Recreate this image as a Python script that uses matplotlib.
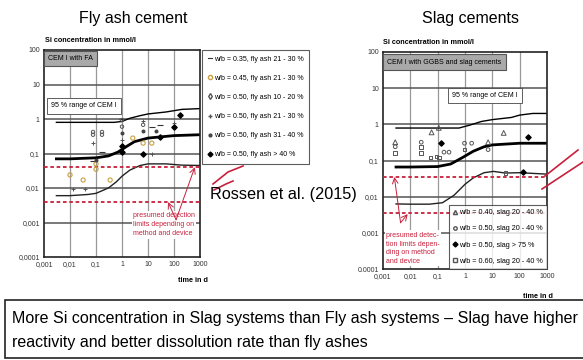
import matplotlib
matplotlib.use("Agg")
import matplotlib.pyplot as plt
from matplotlib.lines import Line2D
from matplotlib.patches import Rectangle

plt.rcParams['font.family'] = ['Liberation Sans', 'DejaVu Sans']

W, H = 583, 360

# ---- axis ticks (shared) ----
x_ticks = [0.001, 0.01, 0.1, 1, 10, 100, 1000]
x_ticklabels = ["0,001", "0,01", "0,1", "1", "10", "100", "1000"]
y_ticks = [0.0001, 0.001, 0.01, 0.1, 1, 10, 100]
y_ticklabels_fa = ["0,0001", "0,001", "0,01", "0,1", "1", "10", "100"]
y_ticklabels_slag = ["0.0001", "0,001", "0,01", "0,1", "1", "10", "100"]

# ---- fly ash: CEM I band curves ----
fa_upper_t = [0.003, 0.01, 0.1, 0.5, 1, 2, 5, 10, 50, 200, 1000]
fa_upper_c = [0.8, 0.8, 0.8, 0.8, 0.85, 1.05, 1.25, 1.4, 1.6, 1.9, 2.0]
fa_mid_t = [0.003, 0.01, 0.1, 0.3, 0.7, 1.5, 3, 10, 100, 1000]
fa_mid_c = [0.07, 0.07, 0.075, 0.085, 0.11, 0.16, 0.22, 0.28, 0.33, 0.35]
fa_low_t = [0.003, 0.01, 0.05, 0.1, 0.3, 0.6, 1, 2, 5, 10, 50, 200, 1000]
fa_low_c = [0.006, 0.006, 0.0065, 0.007, 0.01, 0.015, 0.022, 0.033, 0.045, 0.05, 0.05, 0.046, 0.045]
fa_limits = [0.04, 0.004]

# ---- fly ash: measured points ----
fa35_t = [1, 14, 29, 0.08, 0.17]
fa35_c = [1.0, 0.6, 0.68, 0.06, 0.11]
fa45_t = [0.01, 0.032, 0.1, 0.1, 0.35, 2.6, 6.5, 14]
fa45_c = [0.024, 0.017, 0.05, 0.035, 0.017, 0.28, 0.2, 0.2]
fa50a_t = [0.077, 0.17, 0.077, 0.17, 1, 6.5, 1]
fa50a_c = [0.42, 0.42, 0.35, 0.35, 0.93, 0.68, 0.6]
fa50b_t = [0.077, 1, 14, 100, 0.013, 0.038, 6.5]
fa50b_c = [0.2, 0.25, 0.1, 0.76, 0.0095, 0.0095, 0.85]
fa50c_t = [1, 0.1, 6.5, 20]
fa50c_c = [0.39, 0.065, 0.45, 0.45]
fa50d_t = [1, 6.5, 29, 100, 170, 1]
fa50d_c = [0.11, 0.1, 0.3, 0.6, 1.3, 0.16]

# ---- slag: CEM I band curves ----
sl_upper_t = [0.003, 0.01, 0.1, 0.6, 1.5, 4, 10, 50, 100, 300, 1000]
sl_upper_c = [0.79, 0.79, 0.79, 0.79, 0.95, 1.2, 1.35, 1.55, 1.8, 2.0, 2.0]
sl_mid_t = [0.003, 0.01, 0.1, 0.3, 0.8, 2, 5, 10, 100, 1000]
sl_mid_c = [0.066, 0.066, 0.068, 0.08, 0.12, 0.18, 0.24, 0.27, 0.3, 0.3]
sl_low_t = [0.003, 0.01, 0.05, 0.15, 0.4, 1, 2, 5, 11, 30, 100, 1000]
sl_low_c = [0.0063, 0.0062, 0.0062, 0.0068, 0.011, 0.022, 0.033, 0.046, 0.05, 0.045, 0.046, 0.042]
sl_limits = [0.036, 0.0036]

# ---- slag: measured points ----
sl40_t = [0.0028, 0.11, 0.06, 7, 26]
sl40_c = [0.32, 0.8, 0.6, 0.32, 0.58]
sl50_t = [0.0028, 0.025, 0.17, 0.26, 0.96, 1.75, 7]
sl50_c = [0.24, 0.32, 0.17, 0.17, 0.3, 0.3, 0.2]
sl75_t = [0.13, 210, 135]
sl75_c = [0.3, 0.45, 0.049]
sl60_t = [0.0028, 0.025, 0.025, 0.055, 0.09, 0.96, 30, 0.11]
sl60_c = [0.16, 0.24, 0.16, 0.12, 0.13, 0.2, 0.046, 0.12]

red = '#c8203c'
gray = '#555555'
orange = '#c9a040'


def rect(x0, y0, x1, y1):
    return [x0 / W, 1 - y1 / H, (x1 - x0) / W, (y1 - y0) / H]


def setup(ax, ylabels):
    ax.set_xscale('log')
    ax.set_yscale('log')
    ax.set_xlim(0.001, 1000)
    ax.set_ylim(0.0001, 100)
    ax.set_xticks(x_ticks)
    ax.set_xticklabels(x_ticklabels)
    ax.set_yticks(y_ticks)
    ax.set_yticklabels(ylabels)
    ax.minorticks_off()
    ax.tick_params(labelsize=5, length=0, pad=3, colors='#333333')
    for xv in x_ticks[1:-1]:
        ax.axvline(xv, color='#999999', lw=0.9, zorder=0)
    for yv in y_ticks[1:-1]:
        ax.axhline(yv, color='#555555', lw=1.1, zorder=0)
    for s in ax.spines.values():
        s.set_linewidth(1.2)
        s.set_color('#222222')


fig = plt.figure(figsize=(W / 100, H / 100), dpi=100)

# ================= Fly ash =================
ax1 = fig.add_axes(rect(44, 50, 200, 257))
setup(ax1, y_ticklabels_fa)
ax1.plot(fa_upper_t, fa_upper_c, color='black', lw=1.0)
ax1.plot(fa_mid_t, fa_mid_c, color='black', lw=2.0)
ax1.plot(fa_low_t, fa_low_c, color='#222222', lw=1.0)
for lv in fa_limits:
    ax1.axhline(lv, color=red, lw=1.3, ls=(0, (2, 1.5)), zorder=3)

ax1.scatter(fa35_t, fa35_c, marker='_', s=14, color='#333333', lw=0.8, zorder=4)
ax1.scatter(fa45_t, fa45_c, marker='o', s=9, facecolor='none', edgecolor=orange, lw=0.8, zorder=4)
ax1.scatter(fa50a_t, fa50a_c, marker='o', s=6, facecolor='none', edgecolor=gray, lw=0.7, zorder=4)
ax1.scatter(fa50b_t, fa50b_c, marker='+', s=9, color=gray, lw=0.7, zorder=4)
ax1.scatter(fa50c_t, fa50c_c, marker='.', s=14, color='#444444', zorder=4)
ax1.scatter(fa50d_t, fa50d_c, marker='D', s=7, color='black', zorder=4)

ax1.text(0.025, 0.975, "CEM I with FA", transform=ax1.transAxes, fontsize=5, va='top', ha='left',
         bbox=dict(boxstyle='square,pad=0.6', fc='#a9a9a9', ec='#555555', lw=0.8))
ax1.text(0.045, 0.73, "95 % range of CEM I", transform=ax1.transAxes, fontsize=5, va='center', ha='left',
         bbox=dict(boxstyle='square,pad=0.6', fc='white', ec='#444444', lw=0.6), zorder=5)
ax1.text(0.57, 0.155, "presumed detection\nlimits depending on\nmethod and device", transform=ax1.transAxes,
         fontsize=5, color=red, va='center', ha='left', linespacing=1.4,
         bbox=dict(boxstyle='square,pad=0.2', fc='white', ec='none'), zorder=5)
for tgt in [(59, 0.0039), (630, 0.04)]:
    ax1.annotate("", xy=tgt, xytext=(120, 0.0012),
                 arrowprops=dict(arrowstyle='->', color=red, lw=0.7, shrinkA=0, shrinkB=0), zorder=6)

fig.text(45 / W, 1 - 40 / H, "Si concentration in mmol/l", fontsize=5.2, weight='bold', va='center', ha='left')
fig.text(193 / W, 1 - 281 / H, "time in d", fontsize=5.2, weight='bold', va='center', ha='center')

fa_handles = [
    Line2D([], [], color='#333333', lw=0.8, label="w/b = 0.35, fly ash 21 - 30 %"),
    Line2D([], [], ls='none', marker='o', ms=3, mfc='none', mec=orange, label="w/b = 0.45, fly ash 21 - 30 %"),
    Line2D([], [], ls='none', marker='d', ms=3, mfc='none', mec=gray, label="w/b = 0.50, fly ash 10 - 20 %"),
    Line2D([], [], ls='none', marker='+', ms=3, color=gray, label="w/b = 0.50, fly ash 21 - 30 %"),
    Line2D([], [], ls='none', marker='.', ms=4, color='#444444', label="w/b = 0.50, fly ash 31 - 40 %"),
    Line2D([], [], ls='none', marker='D', ms=2.5, color='black', label="w/b = 0.50, fly ash > 40 %"),
]
leg1 = fig.legend(handles=fa_handles, loc='upper left', bbox_to_anchor=(202 / W, 1 - 50 / H),
                  fontsize=5, frameon=True, fancybox=False, edgecolor='#333333', labelspacing=1.75,
                  handlelength=0.7, handletextpad=0.2, borderpad=0.8, borderaxespad=0)
leg1.get_frame().set_linewidth(0.8)

# ================= Slag =================
ax2 = fig.add_axes(rect(383, 52, 547, 269))
setup(ax2, y_ticklabels_slag)
ax2.plot(sl_upper_t, sl_upper_c, color='black', lw=1.0)
ax2.plot(sl_mid_t, sl_mid_c, color='black', lw=2.0)
ax2.plot(sl_low_t, sl_low_c, color='#222222', lw=1.0)
for lv in sl_limits:
    ax2.axhline(lv, color=red, lw=1.3, ls=(0, (2, 1.5)), zorder=3)

ax2.scatter(sl40_t, sl40_c, marker='^', s=12, facecolor='none', edgecolor='#555555', lw=0.7, zorder=4)
ax2.scatter(sl50_t, sl50_c, marker='o', s=7, facecolor='none', edgecolor=gray, lw=0.7, zorder=4)
ax2.scatter(sl75_t, sl75_c, marker='D', s=7, color='black', zorder=4)
ax2.scatter(sl60_t, sl60_c, marker='s', s=7, facecolor='none', edgecolor='#555555', lw=0.7, zorder=4)

ax2.text(0.025, 0.97, "CEM I with GGBS and slag cements", transform=ax2.transAxes, fontsize=5,
         va='top', ha='left', bbox=dict(boxstyle='square,pad=0.6', fc='#a9a9a9', ec='#555555', lw=0.8))
ax2.text(0.42, 0.8, "95 % range of CEM I", transform=ax2.transAxes, fontsize=5, va='center', ha='left',
         bbox=dict(boxstyle='square,pad=0.6', fc='white', ec='#444444', lw=0.6), zorder=5)
ax2.text(0.02, 0.095, "presumed detec-\ntion limits depen-\nding on method\nand device", transform=ax2.transAxes,
         fontsize=5, color=red, va='center', ha='left', linespacing=1.35,
         bbox=dict(boxstyle='square,pad=0.2', fc='white', ec='none'), zorder=5)
for tgt in [(0.0026, 0.035), (0.008, 0.0033)]:
    ax2.annotate("", xy=tgt, xytext=(0.0044, 0.0019),
                 arrowprops=dict(arrowstyle='->', color=red, lw=0.7, shrinkA=0, shrinkB=0), zorder=6)

sl_handles = [
    Line2D([], [], ls='none', marker='^', ms=3, mfc='none', mec='#555555', label="w/b = 0.40, slag 20 - 40 %"),
    Line2D([], [], ls='none', marker='o', ms=2.5, mfc='none', mec=gray, label="w/b = 0.50, slag 20 - 40 %"),
    Line2D([], [], ls='none', marker='D', ms=2.5, color='black', label="w/b = 0.50, slag > 75 %"),
    Line2D([], [], ls='none', marker='s', ms=2.5, mfc='none', mec='#555555', label="w/b = 0.60, slag 20 - 40 %"),
]
leg2 = ax2.legend(handles=sl_handles, loc='lower right', bbox_to_anchor=(1, 0), fontsize=5.2,
                  frameon=True, fancybox=False, edgecolor='#333333', labelspacing=1.25,
                  handlelength=0.6, handletextpad=0.2, borderpad=0.6, borderaxespad=0)
leg2.get_frame().set_linewidth(0.8)

fig.text(383 / W, 1 - 43 / H, "Si concentration in mmol/l", fontsize=5.2, weight='bold', va='center', ha='left')
fig.text(538 / W, 1 - 297 / H, "time in d", fontsize=5.2, weight='bold', va='center', ha='center')

# ---- slide texts ----
fig.text(133 / W, 1 - 18 / H, "Fly ash cement", fontsize=11.5, ha='center', va='center')
fig.text(470 / W, 1 - 18 / H, "Slag cements", fontsize=11.5, ha='center', va='center')
fig.text(210 / W, 1 - 195 / H, "Rossen et al. (2015)", fontsize=11.7, ha='left', va='center')

# red hand-drawn ticks
fig.add_artist(Line2D([213 / W, 228 / W, 243 / W], [1 - 184 / H, 1 - 172 / H, 1 - 166 / H], color=red, lw=1.2))
fig.add_artist(Line2D([214 / W, 226 / W, 233 / W], [1 - 190 / H, 1 - 184 / H, 1 - 181 / H], color=red, lw=1.2))
fig.add_artist(Line2D([545 / W, 578 / W], [1 - 176 / H, 1 - 150 / H], color=red, lw=1.2))
fig.add_artist(Line2D([542 / W, 583 / W], [1 - 189 / H, 1 - 162 / H], color=red, lw=1.2))

# bottom conclusion box
fig.add_artist(Rectangle((5 / W, 1 - 358 / H), 600 / W, 58 / H, transform=fig.transFigure,
                         fc='white', ec='#222222', lw=1.2))
fig.text(12 / W, 1 - 318 / H, "More Si concentration in Slag systems than Fly ash systems \u2013 Slag have higher",
         fontsize=11.5, ha='left', va='center')
fig.text(12 / W, 1 - 343 / H, "reactivity and better dissolution rate than fly ashes",
         fontsize=11.5, ha='left', va='center')

fig.savefig("out.png", dpi=100)
